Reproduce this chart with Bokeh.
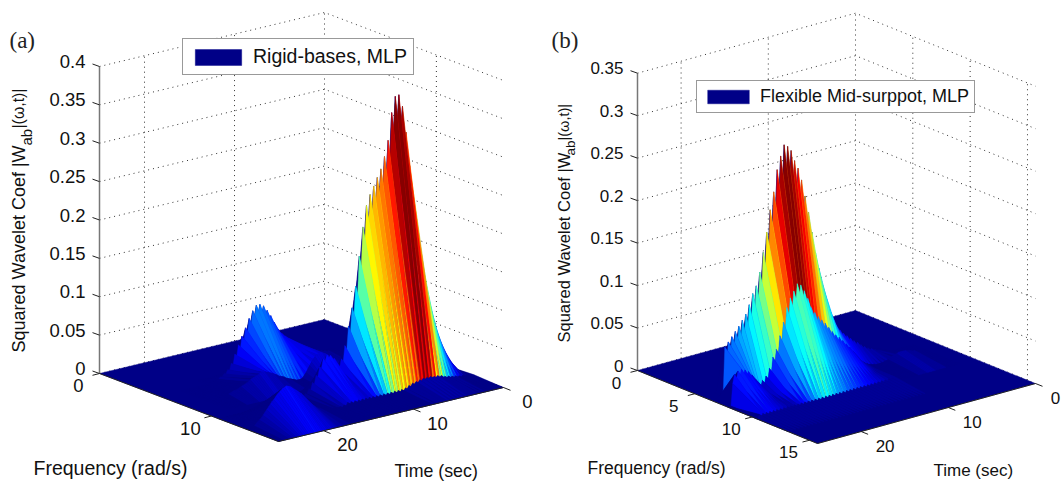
import numpy as np
from bokeh.plotting import figure
from bokeh.models import ColumnDataSource, Legend, LegendItem, Range1d
from bokeh.core.properties import value
from bokeh.embed import file_html
from bokeh.resources import INLINE

# ---------- data ----------
time_grid = [min(0.2 * k, 25.0) for k in range(126)]

a_freq = [0, 2.67, 4.4, 5.33, 8, 9.6, 10.67, 13.33, 16]
a_freq_ticks = [0, 10]
a_time_ticks = [0, 10, 20]
a_z_ticks = [0, 0.05, 0.1, 0.15, 0.2, 0.25, 0.3, 0.35, 0.4]
a_z_labels = ["0", "0.05", "0.1", "0.15", "0.2", "0.25", "0.3", "0.35", "0.4"]

a_row_533 = [.001,.003,.002,.004,.003,.005,.004,.007,.005,.008,.006,.009,.007,.011,.009,.013,.010,.015,.012,.018,.015,.021,.017,.024,.020,.027,.023,.031,.026,.035,.030,.039,.033,.044,.037,.05,.041,.06,.05,.07,.06,.078,.068,.085,.074,.088,.076,.088,.074,.082,.064,.073,.054,.062,.044,.052,.034,.042,.025,.031,.016,.02,.01,.013,.007,.009,.005,.006,.003,.004,.002,.002,.001,.001]
a_row_8 = [.001,.001,.002,.002,.003,.004,.005,.006,.007,.009,.010,.012,.013,.015,.017,.019,.021,.023,.025,.027,.028,.029,.030,.030,.029,.027,.024,.021,.017,.013,.009,.006,.003,.002,.002,.002,.003,.004,.005,.006,.007,.008,.010,.011,.012,.013,.015,.016,.018,.019,.020,.021,.022,.023,.023,.023,.022,.021,.020,.019,.018,.017,.015,.014,.013,.012,.011,.010,.009,.008,.008,.007,.006,.005,.005,.004,.004,.003,.003,.002,.002,.001,.001]
a_row_1067 = [0,.003,.002,.012,.008,.03,.022,.05,.04,.072,.058,.098,.082,.13,.11,.17,.145,.215,.185,.27,.235,.315,.28,.35,.32,.366,.33,.365,.32,.345,.285,.31,.26,.29,.248,.275,.238,.265,.228,.255,.215,.245,.2,.232,.18,.205,.148,.168,.115,.13,.09,.103,.068,.08,.048,.056,.034,.04,.028,.032,.032,.043,.04,.048,.045,.05,.042,.046,.034,.036,.024,.026,.015,.018,.009,.011,.005,.006,.002,.002,0]
a_row_1333 = [.002,0,.003,.001,.004,.002,.005,.002,.005,.003,.006,.004,.007,.005,.008,.006,.009,.007,.011,.009,.012,.010,.012,.011,.013,.011,.013,.011,.013,.010,.012,.009,.011,.008,.010,.006,.008,.004,.006,.002,.005,.001,.005,0,.005,0,.005,0,.005,0,.005,0,.005,0,.005,0,.005,0,.005,0,.005,0,.005,0,.005,0,.005,0,.005,0,.005,0,.003,0,.002,.001,.002,.001,.002,.002,.002,.003,.003,.004,.005,.006,.007,.008,.010,.012,.014,.017,.020,.023,.026,.029,.032,.034,.036,.038,.040,.042,.044,.045,.046,.045,.044,.042,.040,.038,.035,.032,.030,.027,.024,.021,.018,.015,.012,.010,.008,.006,.004,.003,.002,.001]

b_freq = [0, 3.3, 5.6, 6.4, 7.85, 10.47, 13.08, 15.7]
b_freq_ticks = [0, 5, 10, 15]
b_time_ticks = [0, 10, 20]
b_z_ticks = [0, 0.05, 0.1, 0.15, 0.2, 0.25, 0.3, 0.35]
b_z_labels = ["0", "0.05", "0.1", "0.15", "0.2", "0.25", "0.3", "0.35"]

b_row_64 = [.001,.003,.002,.004,.003,.005,.004,.007,.005,.009,.006,.011,.008,.014,.010,.017,.013,.021,.016,.024,.019,.028,.022,.032,.026,.036,.03,.041,.034,.047,.039,.054,.045,.063,.05,.08,.06,.10,.076,.12,.09,.14,.105,.165,.125,.19,.145,.21,.165,.23,.18,.245,.19,.255,.20,.268,.21,.274,.215,.277,.21,.265,.2,.25,.185,.225,.165,.205,.145,.18,.122,.157,.105,.135,.09,.12,.082,.112,.072,.1,.065,.09,.058,.084,.052,.078,.048,.073,.044,.068,.04,.063,.035,.058,0]
b_row_785 = [.001,.002,.002,.003,.003,.004,.004,.005,.006,.006,.007,.008,.008,.009,.009,.009,.009,.009,.008,.008,.007,.006,.005,.004,.003,.003,.002,.002,.002,.002,.002,.003,.003,.004,.004,.006,.005,.009,.007,.013,.01,.018,.014,.025,.019,.031,.024,.036,.029,.041,.033,.046,.037,.05,.041,.055,.045,.061,.05,.067,.055,.072,.06,.077,.065,.083,.07,.09,.076,.102,.084,.112,.092,.12,.1,.1225,.098,.115,.09,.108,.082,.098,.068,.082,.054,.067,.042,.052,.032,.044,.022,.032,.015,.024,.012,.02,.012,.018,.015,.024,.02,.03,.025,.035,.029,.038,.031,.04,.031,.039,.028,.036,.026,0]
b_row_1047 = [0,.005,0,.005,0,.005,0,.005,0,.005,0,.005,0,.005,0,.005,0,.005,0,.005,0,.005,0,.005,0,.005,0,.005,0,.005,0,.005,0,.005,0,.005,0,.005,0,.005,0,.005,0,.005,0,.005,0,.005,0,.005,0,.005,0,.005,0,.005,0,.005,0,.005,0,.005,0,.005,0,.005,0,.005,0,.005,0,.005,0,.005,0,.005,0,.005,0,.005]


def row(start_index, values):
    out = np.zeros(len(time_grid))
    out[start_index:start_index + len(values)] = values
    return out


a_surface = [row(0, []), row(0, []), row(0, []), row(24, a_row_533), row(30, a_row_8),
             row(0, []), row(0, a_row_1067), row(0, a_row_1333), row(0, [])]
b_surface = [row(0, []), row(0, []), row(0, []), row(24, b_row_64), row(10, b_row_785),
             row(45, b_row_1047), row(0, []), row(0, [])]


def jet(v):
    level = min(int(v * 64), 63)
    u = (level + 0.5) / 64
    r = np.clip(min(4 * u - 1.5, -4 * u + 4.5), 0, 1)
    g = np.clip(min(4 * u - 0.5, -4 * u + 3.5), 0, 1)
    b = np.clip(min(4 * u + 0.5, -4 * u + 2.5), 0, 1)
    return "#%02x%02x%02x" % (int(r * 255), int(g * 255), int(b * 255))


FONT = "Liberation Sans"
W, H = 1062, 483
X0, Y0 = 0, 0
p = figure(width=W, height=H, output_backend="svg", toolbar_location=None,
           x_range=Range1d(X0, X0 + W), y_range=Range1d(Y0 + H, Y0),
           x_axis_location=None, y_axis_location=None, min_border=0,
           outline_line_color=None, background_fill_color="white")
p.grid.visible = False


def label(x, y, txt, size, align="center", angle=0.0, font=FONT, baseline="middle", color="#111111"):
    p.text([x], [y], text=[txt], text_font=value(font), text_font_size=f"{size}px",
           text_align=align, text_baseline=baseline, angle=angle, text_color=color)


def panel(freq, surface, ftick, ttick, ztick, zlab, back, right, left, zpx, tmax, zmax,
          fs, name, name_xy, ylab, legend_txt, legend_box, glyph, xlab, tlab):
    fmax = freq[-1]
    bx, by = back
    dfx, dfy = (right[0] - bx) / fmax, (right[1] - by) / fmax
    dtx, dty = (left[0] - bx) / tmax, (left[1] - by) / tmax

    def pr(f, t, z=0.0):
        return bx + f * dfx + t * dtx, by + f * dfy + t * dty - z / zmax * zpx

    # walls
    dot = dict(line_color="#333333", line_width=1, line_dash="1 4")
    xs, ys = [], []
    for z in ztick:
        a, b, c = pr(0, tmax, z), pr(0, 0, z), pr(fmax, 0, z)
        xs.append([a[0], b[0], c[0]])
        ys.append([a[1], b[1], c[1]])
    for t in ttick:
        a, b = pr(0, t), pr(0, t, zmax)
        xs.append([a[0], b[0]])
        ys.append([a[1], b[1]])
    for f in ftick[1:]:
        a, b = pr(f, 0), pr(f, 0, zmax)
        xs.append([a[0], b[0]])
        ys.append([a[1], b[1]])
    p.multi_line(xs, ys, **dot)

    # surface: the flat floor first, then every raised cell from back to front
    vmax = max(r.max() for r in surface)
    c00, c10, c11, c01 = pr(0, 0), pr(fmax, 0), pr(fmax, tmax), pr(0, tmax)
    qx = [[c00[0], c10[0], c11[0], c01[0]]]
    qy = [[c00[1], c10[1], c11[1], c01[1]]]
    qc = [jet(0.0)]
    for i in range(len(freq) - 1):
        for j in range(len(time_grid) - 1):
            zs = [surface[i][j], surface[i][j + 1], surface[i + 1][j + 1], surface[i + 1][j]]
            if max(zs) == 0:
                continue
            corners = [pr(freq[i], time_grid[j], zs[0]),
                       pr(freq[i], time_grid[j + 1], zs[1]),
                       pr(freq[i + 1], time_grid[j + 1], zs[2]),
                       pr(freq[i + 1], time_grid[j], zs[3])]
            qx.append([c[0] for c in corners])
            qy.append([c[1] for c in corners])
            qc.append(jet(zs[0] / vmax))
    src = ColumnDataSource(dict(xs=qx, ys=qy, c=qc))
    r = p.patches("xs", "ys", source=src, fill_color="c", line_color="c", line_width=0.4)

    # axes
    ax, ay = [], []
    fa, fb, fc = pr(0, tmax), pr(fmax, tmax), pr(fmax, 0)
    ax.append([fa[0], fb[0], fc[0]])
    ay.append([fa[1], fb[1], fc[1]])
    zt = pr(0, tmax, zmax)
    p.line([fa[0], zt[0]], [fa[1], zt[1]], line_color="#777777", line_width=1.5)
    for z, s in zip(ztick, zlab):
        q = pr(0, tmax, z)
        ax.append([q[0], q[0] - 7])
        ay.append([q[1], q[1] - 2.5])
        label(q[0] - 14, q[1] - 5, s, fs, "right")
    for f in ftick:
        q = pr(f, tmax)
        ax.append([q[0], q[0] - 7])
        ay.append([q[1], q[1] + 1.8])
        label(q[0] - 21, q[1] + 12, str(f), fs)
    for t in ttick:
        q = pr(fmax, t)
        ax.append([q[0], q[0] + 7])
        ay.append([q[1], q[1] + 2.8])
        label(min(q[0] + 24, W - 7), q[1] + 14, str(t), fs)
    p.multi_line(ax, ay, line_color="#222222", line_width=1)

    # texts
    label(name_xy[0], name_xy[1], name, 23, "left", font="Liberation Serif", color="#222222")
    (bx0, by0, sub_x, sub_y, tail_y, sub_size, txt_size, head, tail) = ylab
    label(bx0, by0, head, txt_size, "left", np.pi / 2, baseline="alphabetic")
    label(sub_x, sub_y, "ab", sub_size, "left", np.pi / 2, baseline="alphabetic")
    label(bx0, tail_y, tail, txt_size * 0.88, "left", np.pi / 2, baseline="alphabetic")
    label(xlab[0], xlab[1], "Frequency (rad/s)", xlab[2], "left")
    label(tlab[0], tlab[1], "Time (sec)", tlab[3], "left")

    # legend
    lx, ly = legend_box
    lg = Legend(items=[LegendItem(label=legend_txt, renderers=[r], index=0)],
                location=(lx - X0, Y0 + H - ly), margin=0, padding=glyph[2], spacing=0,
                glyph_width=glyph[0], glyph_height=glyph[1], label_standoff=6,
                label_text_font=FONT, label_text_font_size=f"{glyph[3]}px",
                label_text_color="#111111", border_line_color="#333333", border_line_width=1,
                background_fill_color="white", background_fill_alpha=1.0,
                label_height=glyph[1], label_width=10)
    p.add_layout(lg)


panel(a_freq, a_surface, a_freq_ticks, a_time_ticks, a_z_ticks, a_z_labels,
      back=(324, 319), right=(503, 387), left=(99, 373), zpx=307, tmax=25, zmax=0.4, fs=18.5,
      name="(a)", name_xy=(9, 40),
      ylab=(18, 352, 26, 145, 128, 15, 18, "Squared Wavelet Coef |W", "|(\u03c9,t)|"),
      legend_txt="Rigid-bases, MLP", legend_box=(182, 75), glyph=(58, 20, 6, 19.5),
      xlab=(33, 467, 19.5), tlab=(394, 470, 0, 17.8))

panel(b_freq, b_surface, b_freq_ticks, b_time_ticks, b_z_ticks, b_z_labels,
      back=(855, 310), right=(1035, 383), left=(637, 370), zpx=297.3, tmax=25, zmax=0.35, fs=17,
      name="(b)", name_xy=(551, 40),
      ylab=(563, 342, 570, 155, 140, 13.5, 16.5, "Squared Wavelet Coef |W", "|(\u03c9,t)|"),
      legend_txt="Flexible Mid-surppot, MLP", legend_box=(696, 113), glyph=(52, 17, 5, 18),
      xlab=(587, 467, 17.5), tlab=(933, 470, 0, 17))

open("out.html", "w").write(file_html(p, INLINE))
